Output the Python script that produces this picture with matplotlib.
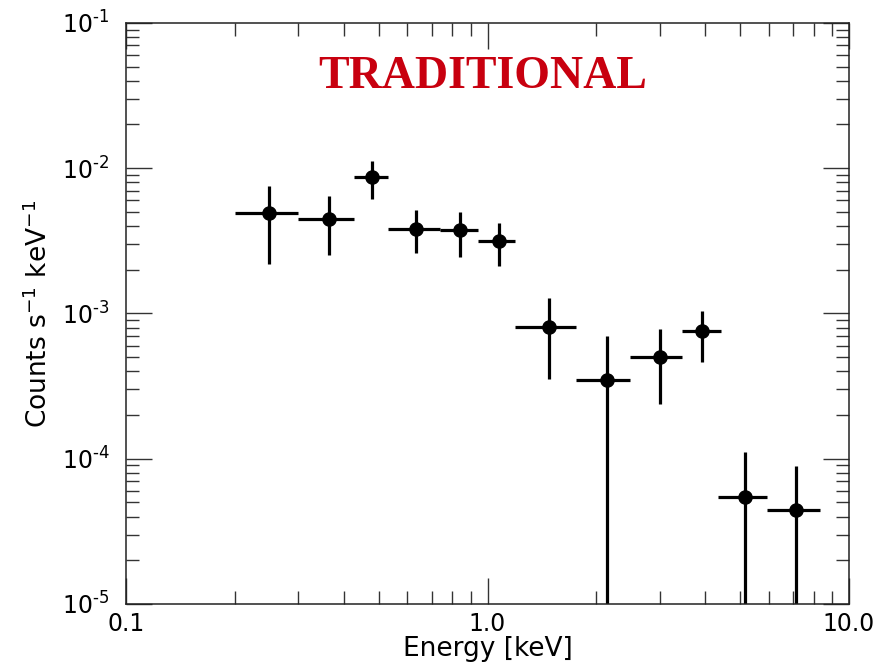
import matplotlib

matplotlib.use("Agg")
import matplotlib.pyplot as plt
import matplotlib.ticker as mticker
import numpy as np

# binned spectrum
energy = [0.249, 0.364, 0.480, 0.635, 0.841, 1.074, 1.483, 2.141, 3.00, 3.93, 5.17, 7.12]
e_lo = [0.200, 0.300, 0.428, 0.532, 0.738, 0.940, 1.190, 1.757, 2.48, 3.45, 4.34, 5.92]
e_hi = [0.300, 0.428, 0.532, 0.738, 0.940, 1.190, 1.757, 2.48, 3.45, 4.42, 5.92, 8.33]
rate = [4.90e-3, 4.47e-3, 8.66e-3, 3.84e-3, 3.74e-3, 3.17e-3, 8.04e-4, 3.47e-4, 5.02e-4, 7.54e-4, 5.48e-5, 4.42e-5]
rate_hi = [7.58e-3, 6.47e-3, 1.12e-2, 5.13e-3, 5.00e-3, 4.20e-3, 1.27e-3, 7.00e-4, 7.78e-4, 1.045e-3, 1.113e-4, 8.91e-5]
# None -> error bar runs off the bottom of the plot
rate_lo = [2.19e-3, 2.52e-3, 6.14e-3, 2.60e-3, 2.46e-3, 2.12e-3, 3.52e-4, None, 2.37e-4, 4.64e-4, None, None]

energy = np.array(energy)
rate = np.array(rate)
lo = np.array([v if v is not None else 1e-8 for v in rate_lo])
xerr = [energy - np.array(e_lo), np.array(e_hi) - energy]
yerr = [rate - lo, np.array(rate_hi) - rate]

fig = plt.figure(figsize=(8.8, 6.64), dpi=100)
ax = fig.add_axes([0.1432, 0.0904, 0.8216, 0.875])

ax.errorbar(energy, rate, xerr=xerr, yerr=yerr, fmt="o", color="black",
            ms=9.5, elinewidth=2.3, capsize=0)

ax.set_xscale("log")
ax.set_yscale("log")
ax.set_xlim(0.1, 10.0)
ax.set_ylim(1e-5, 1e-1)

ax.xaxis.set_major_locator(mticker.FixedLocator([0.1, 1.0, 10.0]))
ax.xaxis.set_major_formatter(mticker.FixedFormatter(["0.1", "1.0", "10.0"]))
ax.xaxis.set_minor_locator(mticker.LogLocator(base=10, subs=np.arange(2, 10)))
ax.xaxis.set_minor_formatter(mticker.NullFormatter())

ydec = [1e-5, 1e-4, 1e-3, 1e-2, 1e-1]
ax.yaxis.set_major_locator(mticker.FixedLocator(ydec))
ax.yaxis.set_major_formatter(mticker.FixedFormatter(
    ["10$^{\\text{-%d}}$" % int(round(-np.log10(v))) for v in ydec]))
ax.yaxis.set_minor_locator(mticker.LogLocator(base=10, subs=np.arange(2, 10)))
ax.yaxis.set_minor_formatter(mticker.NullFormatter())

ax.tick_params(which="both", direction="in", top=True, right=True,
               color="#333333", labelsize=17)
ax.tick_params(which="major", length=19, width=1.0)
ax.tick_params(which="minor", length=9.5, width=1.0)
ax.tick_params(axis="y", which="major", pad=12)
ax.tick_params(axis="x", which="major", pad=6)
for s in ax.spines.values():
    s.set_linewidth(1.1)
    s.set_color("#222222")

ax.set_xlabel("Energy [keV]", fontsize=19, labelpad=0)
ax.set_ylabel("Counts s$^{-1}$ keV$^{-1}$", fontsize=19, labelpad=6)

ax.text(0.4935, 0.907, "TRADITIONAL", transform=ax.transAxes, ha="center",
        va="center", fontsize=33, fontweight="bold", family="Liberation Serif",
        color="#c8000f")

fig.savefig("out.png", dpi=100)
